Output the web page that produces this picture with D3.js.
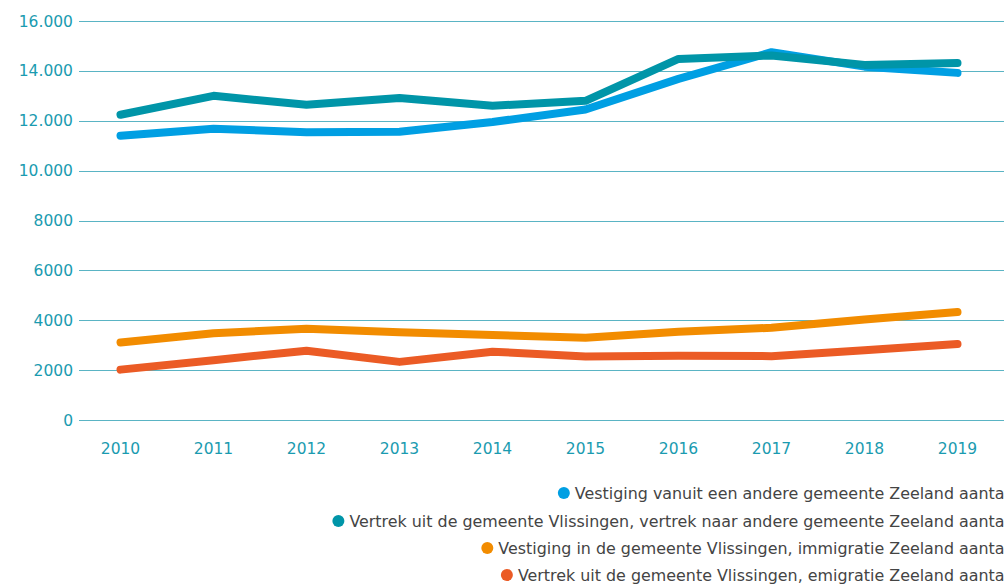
<!DOCTYPE html>
<html><head><meta charset="utf-8">
<script src="https://cdn.jsdelivr.net/npm/d3@7"></script>
<style>body{margin:0;background:#fff;overflow:hidden}svg{display:block}</style>
</head><body>
<svg id="c" width="1004" height="584"></svg>
<script>
const years = ["2010","2011","2012","2013","2014","2015","2016","2017","2018","2019"];
const seriesNames = [
  "Vestiging vanuit een andere gemeente Zeeland aantal",
  "Vertrek uit de gemeente Vlissingen, vertrek naar andere gemeente Zeeland aantal",
  "Vestiging in de gemeente Vlissingen, immigratie Zeeland aantal",
  "Vertrek uit de gemeente Vlissingen, emigratie Zeeland aantal"
];
const seriesColors = ["#009fe3", "#0095a8", "#f28c00", "#eb5b25"];
const vestigingAndere = [11400, 11680, 11540, 11560, 11950, 12450, 13680, 14750, 14170, 13920];
const vertrekAndere   = [12240, 13000, 12640, 12910, 12600, 12800, 14480, 14620, 14240, 14320];
const immigratie      = [3110, 3480, 3660, 3520, 3410, 3300, 3540, 3700, 4030, 4330];
const emigratie       = [2020, 2400, 2780, 2330, 2740, 2550, 2580, 2560, 2800, 3050];
const yTicks = [0, 2000, 4000, 6000, 8000, 10000, 12000, 14000, 16000];
const yTickLabels = ["0","2000","4000","6000","8000","10.000","12.000","14.000","16.000"];

const allSeries = [vestigingAndere, vertrekAndere, immigratie, emigratie];
const svg = d3.select("#c");
const font = "'DejaVu Sans', Verdana, sans-serif";

const x = d3.scaleBand().domain(years).range([74, 1004]);
const y = d3.scaleLinear().domain([0, 16000]).range([420, 21]);

// grid
svg.append("g").selectAll("line").data(yTicks).join("line")
  .attr("x1", 79).attr("x2", 1004)
  .attr("y1", d => Math.round(y(d)) + 0.5).attr("y2", d => Math.round(y(d)) + 0.5)
  .attr("stroke", "#5ab4c4").attr("stroke-width", 1);

// y labels
svg.append("g").selectAll("text").data(yTicks).join("text")
  .attr("x", 73).attr("y", d => y(d)).attr("dy", "0.36em")
  .attr("text-anchor", "end").attr("fill", "#1a9bb0")
  .style("font-family", font).style("font-size", "15.5px")
  .text((d, i) => yTickLabels[i]);

// x labels
svg.append("g").selectAll("text").data(years).join("text")
  .attr("x", d => x(d) + x.bandwidth() / 2).attr("y", 454)
  .attr("text-anchor", "middle").attr("fill", "#1a9bb0")
  .style("font-family", font).style("font-size", "15.5px")
  .text(d => d);

// lines
const line = d3.line().x((d, i) => x(years[i]) + x.bandwidth() / 2).y(d => y(d));
[3, 2, 0, 1].forEach(k => {
  svg.append("path").datum(allSeries[k])
    .attr("d", line).attr("fill", "none")
    .attr("stroke", seriesColors[k]).attr("stroke-width", 8)
    .attr("stroke-linecap", "round").attr("stroke-linejoin", "round");
});

// legend
const legY = [493, 521, 548, 575];
seriesNames.forEach((name, i) => {
  const t = svg.append("text")
    .attr("x", 1009).attr("y", legY[i]).attr("dy", "0.36em")
    .attr("text-anchor", "end").attr("fill", "#444")
    .style("font-family", font).style("font-size", "15.9px")
    .text(name);
  const w = t.node().getComputedTextLength();
  svg.append("circle").attr("cx", 1009 - w - 11).attr("cy", legY[i]).attr("r", 6)
    .attr("fill", seriesColors[i]);
});
</script>
</body></html>
